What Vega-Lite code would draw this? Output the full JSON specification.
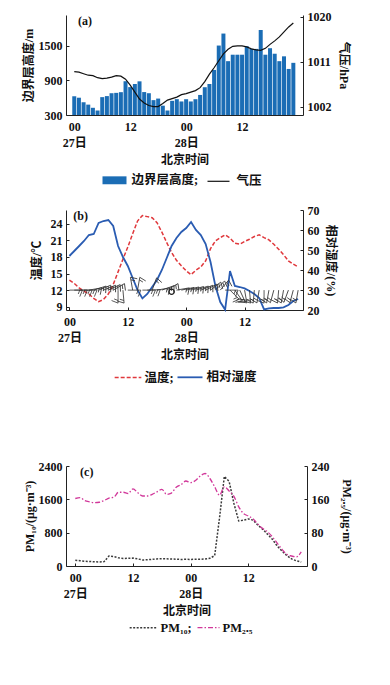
{
  "$schema": "https://vega.github.io/schema/vega-lite/v6.json",
  "background": "white",
  "padding": {"left": 22, "top": 10, "right": 5, "bottom": 5},
  "spacing": 15,
  "resolve": {
    "scale": {"fill": "independent", "stroke": "independent", "color": "independent"},
    "legend": {"fill": "independent", "stroke": "independent", "color": "independent"}
  },
  "config": {
    "view": {"stroke": null},
    "font": "Liberation Serif, Noto Sans CJK SC",
    "axis": {
      "labelFont": "Liberation Serif, Noto Sans CJK SC",
      "titleFont": "Liberation Serif, Noto Sans CJK SC",
      "labelFontSize": 12, "titleFontSize": 12,
      "labelFontWeight": "bold", "titleFontWeight": "bold",
      "labelColor": "#111", "titleColor": "#111",
      "domainColor": "#222", "tickColor": "#222",
      "grid": false, "tickSize": -3, "labelPadding": 7, "format": "d"
    },
    "axisX": {"labelPadding": 9, "titlePadding": 6, "labelLineHeight": 16, "labelFlush": false, "labelOverlap": false},
    "legend": {
      "labelFont": "Liberation Serif, Noto Sans CJK SC",
      "labelFontSize": 12.5, "labelFontWeight": "bold", "labelColor": "#111"
    }
  },
  "vconcat": [
    {
      "width": 237, "height": 100,
      "data": {"values": [
        {"h":0,"blh":625,"p":1009.0},{"h":1,"blh":600,"p":1008.9},{"h":2,"blh":520,"p":1008.6},{"h":3,"blh":480,"p":1008.3},
        {"h":4,"blh":425,"p":1008.2},{"h":5,"blh":378,"p":1007.8},{"h":6,"blh":610,"p":1007.6},{"h":7,"blh":628,"p":1007.7},
        {"h":8,"blh":678,"p":1007.9},{"h":9,"blh":684,"p":1008.2},{"h":10,"blh":696,"p":1008.1},{"h":11,"blh":886,"p":1007.5},
        {"h":12,"blh":784,"p":1006.3},{"h":13,"blh":838,"p":1004.9},{"h":14,"blh":884,"p":1003.5},{"h":15,"blh":698,"p":1002.7},
        {"h":16,"blh":678,"p":1002.2},{"h":17,"blh":558,"p":1002.0},{"h":18,"blh":585,"p":1002.0},{"h":19,"blh":462,"p":1002.6},
        {"h":20,"blh":378,"p":1003.3},{"h":21,"blh":546,"p":1003.6},{"h":22,"blh":575,"p":1003.9},{"h":23,"blh":535,"p":1004.4},
        {"h":24,"blh":574,"p":1004.6},{"h":25,"blh":535,"p":1004.9},{"h":26,"blh":574,"p":1005.2},{"h":27,"blh":648,"p":1005.8},
        {"h":28,"blh":782,"p":1007.0},{"h":29,"blh":838,"p":1008.5},{"h":30,"blh":1082,"p":1009.8},{"h":31,"blh":1505,"p":1011.2},
        {"h":32,"blh":1713,"p":1012.6},{"h":33,"blh":1234,"p":1013.5},{"h":34,"blh":1346,"p":1014.1},{"h":35,"blh":1346,"p":1014.2},
        {"h":36,"blh":1346,"p":1014.2},{"h":37,"blh":1493,"p":1014.0},{"h":38,"blh":1447,"p":1013.6},{"h":39,"blh":1447,"p":1013.4},
        {"h":40,"blh":1775,"p":1013.3},{"h":41,"blh":1346,"p":1013.7},{"h":42,"blh":1459,"p":1014.5},{"h":43,"blh":1363,"p":1015.2},
        {"h":44,"blh":1234,"p":1016.0},{"h":45,"blh":1318,"p":1017.0},{"h":46,"blh":1099,"p":1018.0},{"h":47,"blh":1205,"p":1018.8}
      ]},
      "encoding": {
        "x": {"field": "h", "type": "quantitative",
          "scale": {"domain": [-0.7, 48], "nice": false, "zero": false},
          "axis": {"values": [0, 12, 24, 36], "title": "北京时间",
            "labelExpr": "datum.value == 0 ? ['00','27日'] : datum.value == 24 ? ['00','28日'] : '12'"}}
      },
      "layer": [
        {
          "mark": {"type": "bar", "width": 4},
          "encoding": {
            "y": {"field": "blh", "type": "quantitative",
              "scale": {"domain": [300, 2035], "nice": false, "zero": false},
              "axis": {"orient": "left", "values": [300, 900, 1500], "title": "边界层高度/m", "titlePadding": 3}},
            "y2": {"datum": 300},
            "fill": {"datum": "边界层高度;", "type": "nominal", "scale": {"range": ["#1b6db5"]},
              "legend": {"title": null, "orient": "none", "legendX": 36.5, "legendY": 153.3,
                "symbolType": "M-1,-0.33H1V0.33H-1Z", "symbolSize": 576, "labelOffset": 5, "symbolStrokeWidth": 0}}
          }
        },
        {
          "mark": {"type": "line", "strokeWidth": 1.2},
          "encoding": {
            "y": {"field": "p", "type": "quantitative",
              "scale": {"domain": [1000.3, 1020.4], "nice": false, "zero": false},
              "axis": {"orient": "right", "values": [1002, 1011, 1020], "title": "气压/hPa", "titlePadding": 5}},
            "stroke": {"datum": "气压", "type": "nominal", "scale": {"range": ["#111111"]},
              "legend": {"title": null, "orient": "none", "legendX": 140.5, "legendY": 154.3,
                "symbolType": "stroke", "symbolSize": 484, "symbolStrokeWidth": 1.2, "labelOffset": 6}}
          }
        },
        {
          "data": {"values": [{"h": 0.8, "label": "(a)"}]},
          "mark": {"type": "text", "align": "left", "baseline": "top", "dy": 1, "fontSize": 12, "fontWeight": "bold", "font": "Liberation Serif", "color": "#111"},
          "encoding": {
            "text": {"field": "label", "type": "nominal"},
            "y": {"datum": 2035, "type": "quantitative", "scale": {"domain": [300, 2035], "nice": false, "zero": false}, "axis": null}
          }
        }
      ],
      "resolve": {"scale": {"y": "independent"}}
    },
    {
      "width": 237, "height": 100,
      "data": {"values": [
        {"h":0,"t":13.8,"rh":47,"wd":90},{"h":1,"t":13.2,"rh":49.5,"wd":90},{"h":2,"t":12.4,"rh":52,"wd":90},{"h":3,"t":11.8,"rh":54.5,"wd":90},
        {"h":4,"t":11.3,"rh":57.5,"wd":80},{"h":5,"t":10.5,"rh":58,"wd":72},{"h":6,"t":9.9,"rh":63.5,"wd":68},{"h":7,"t":10.3,"rh":64.5,"wd":68},
        {"h":8,"t":11.3,"rh":65,"wd":65},{"h":9,"t":13.0,"rh":62,"wd":60},{"h":10,"t":15.3,"rh":52,"wd":180},{"h":11,"t":17.6,"rh":46.5,"wd":175},
        {"h":12,"t":19.8,"rh":42,"wd":90},{"h":13,"t":22.2,"rh":36,"wd":350},{"h":14,"t":24.5,"rh":30,"wd":10},{"h":15,"t":25.5,"rh":25.8,"wd":90},
        {"h":16,"t":25.3,"rh":28,"wd":88},{"h":17,"t":25.1,"rh":31.5,"wd":20},{"h":18,"t":24.2,"rh":35,"wd":80},{"h":19,"t":22.5,"rh":40,"wd":70},
        {"h":20,"t":20.6,"rh":46,"wd":60},{"h":21,"t":18.8,"rh":52,"wd":null},{"h":22,"t":17.4,"rh":56,"wd":80},{"h":23,"t":16.4,"rh":59,"wd":78},
        {"h":24,"t":15.5,"rh":61,"wd":76},{"h":25,"t":14.8,"rh":64,"wd":74},{"h":26,"t":15.6,"rh":60,"wd":72},{"h":27,"t":16.2,"rh":57.5,"wd":68},
        {"h":28,"t":17.3,"rh":53,"wd":62},{"h":29,"t":19.5,"rh":44,"wd":52},{"h":30,"t":20.9,"rh":32,"wd":45},{"h":31,"t":21.5,"rh":24,"wd":40},
        {"h":32,"t":22.0,"rh":20.2,"wd":90},{"h":33,"t":21.4,"rh":39.5,"wd":135},{"h":34,"t":20.5,"rh":32,"wd":145},{"h":35,"t":20.3,"rh":31.5,"wd":155},
        {"h":36,"t":20.8,"rh":30.8,"wd":170},{"h":37,"t":21.2,"rh":29.5,"wd":175},{"h":38,"t":21.7,"rh":28,"wd":185},{"h":39,"t":22.0,"rh":26,"wd":190},
        {"h":40,"t":21.5,"rh":20.3,"wd":180},{"h":41,"t":21.1,"rh":20.8,"wd":190},{"h":42,"t":20.3,"rh":21,"wd":195},{"h":43,"t":19.4,"rh":21,"wd":185},
        {"h":44,"t":18.4,"rh":21.3,"wd":190},{"h":45,"t":17.3,"rh":22.5,"wd":200},{"h":46,"t":16.7,"rh":24.5,"wd":195},{"h":47,"t":16.2,"rh":25.5,"wd":190}
      ]},
      "encoding": {
        "x": {"field": "h", "type": "quantitative",
          "scale": {"domain": [-0.7, 48], "nice": false, "zero": false},
          "axis": {"values": [0, 12, 24, 36], "title": "北京时间",
            "labelExpr": "datum.value == 0 ? ['00','27日'] : datum.value == 24 ? ['00','28日'] : '12'"}}
      },
      "layer": [
        {
          "mark": {"type": "line", "strokeWidth": 1.5, "strokeDash": [4, 2]},
          "encoding": {
            "y": {"field": "t", "type": "quantitative",
              "scale": {"domain": [8.4, 26.5], "nice": false, "zero": false},
              "axis": {"orient": "left", "values": [9, 12, 15, 18, 21, 24], "title": "温度/℃", "titlePadding": 7}},
            "stroke": {"datum": "温度;", "type": "nominal", "scale": {"range": ["#e0383c"]},
              "legend": {"title": null, "orient": "none", "legendX": 47.5, "legendY": 153,
                "symbolType": "stroke", "symbolSize": 711, "symbolStrokeWidth": 1.5, "symbolDash": [4, 2], "labelOffset": 2}}
          }
        },
        {
          "mark": {"type": "line", "strokeWidth": 1.8},
          "encoding": {
            "y": {"field": "rh", "type": "quantitative",
              "scale": {"domain": [20, 70], "nice": false, "zero": false},
              "axis": {"orient": "right", "values": [20, 30, 40, 50, 60, 70], "title": "相对湿度/(%)", "titlePadding": 4}},
            "color": {"datum": "相对湿度", "type": "nominal", "scale": {"range": ["#2a5cb2"]},
              "legend": {"title": null, "orient": "none", "legendX": 110.5, "legendY": 153.8,
                "symbolType": "stroke", "symbolSize": 625, "symbolStrokeWidth": 1.8, "labelOffset": 3}}
          }
        },
        {
          "transform": [{"filter": "isValid(datum.wd)"}],
          "mark": {"type": "point", "shape": "M0,0L0,-1L0.5,-0.8M0,-0.8L0.3,-0.68", "size": 676, "filled": false, "color": "#333", "strokeWidth": 0.8, "opacity": 1},
          "encoding": {
            "y": {"datum": 12, "type": "quantitative", "scale": {"domain": [8.4, 26.5], "nice": false, "zero": false}, "axis": null},
            "angle": {"field": "wd", "type": "quantitative", "scale": null}
          }
        },
        {
          "data": {"values": [{"h": 21}]},
          "mark": {"type": "point", "shape": "circle", "size": 28, "filled": false, "color": "#222", "strokeWidth": 1.3, "opacity": 1},
          "encoding": {
            "y": {"datum": 11.7, "type": "quantitative", "scale": {"domain": [8.4, 26.5], "nice": false, "zero": false}, "axis": null}
          }
        },
        {
          "data": {"values": [{"h": 0.8, "label": "(b)"}]},
          "mark": {"type": "text", "align": "left", "baseline": "top", "dy": 1, "fontSize": 12, "fontWeight": "bold", "font": "Liberation Serif", "color": "#111"},
          "encoding": {
            "text": {"field": "label", "type": "nominal"},
            "y": {"datum": 26.5, "type": "quantitative", "scale": {"domain": [8.4, 26.5], "nice": false, "zero": false}, "axis": null}
          }
        }
      ],
      "resolve": {"scale": {"y": "independent"}}
    },
    {
      "width": 241, "height": 100,
      "title": {"text": " ", "fontSize": 12, "offset": 48},
      "data": {"values": [
        {"h":0,"pm10":140,"pm25":162},{"h":1,"pm10":125,"pm25":164},{"h":2,"pm10":115,"pm25":157},{"h":3,"pm10":108,"pm25":154},
        {"h":4,"pm10":100,"pm25":152},{"h":5,"pm10":98,"pm25":153},{"h":6,"pm10":105,"pm25":157},{"h":7,"pm10":240,"pm25":163},
        {"h":8,"pm10":225,"pm25":165},{"h":9,"pm10":195,"pm25":177},{"h":10,"pm10":180,"pm25":177},{"h":11,"pm10":185,"pm25":174},
        {"h":12,"pm10":190,"pm25":185},{"h":13,"pm10":170,"pm25":176},{"h":14,"pm10":145,"pm25":168},{"h":15,"pm10":150,"pm25":168},
        {"h":16,"pm10":160,"pm25":172},{"h":17,"pm10":170,"pm25":178},{"h":18,"pm10":175,"pm25":184},{"h":19,"pm10":172,"pm25":172},
        {"h":20,"pm10":168,"pm25":175},{"h":21,"pm10":162,"pm25":189},{"h":22,"pm10":158,"pm25":195},{"h":23,"pm10":160,"pm25":204},
        {"h":24,"pm10":158,"pm25":200},{"h":25,"pm10":160,"pm25":205},{"h":26,"pm10":162,"pm25":216},{"h":27,"pm10":170,"pm25":222},
        {"h":28,"pm10":185,"pm25":210},{"h":29,"pm10":250,"pm25":190},{"h":30,"pm10":1150,"pm25":170},{"h":31,"pm10":2150,"pm25":190},
        {"h":32,"pm10":2030,"pm25":180},{"h":33,"pm10":1500,"pm25":167},{"h":34,"pm10":1080,"pm25":142},{"h":35,"pm10":1100,"pm25":126},
        {"h":36,"pm10":1130,"pm25":120},{"h":37,"pm10":1100,"pm25":113},{"h":38,"pm10":980,"pm25":100},{"h":39,"pm10":880,"pm25":90},
        {"h":40,"pm10":760,"pm25":82},{"h":41,"pm10":640,"pm25":70},{"h":42,"pm10":480,"pm25":55},{"h":43,"pm10":360,"pm25":40},
        {"h":44,"pm10":250,"pm25":28},{"h":45,"pm10":170,"pm25":24},{"h":46,"pm10":125,"pm25":22},{"h":47,"pm10":95,"pm25":34}
      ]},
      "encoding": {
        "x": {"field": "h", "type": "quantitative",
          "scale": {"domain": [-1.93, 48.2], "nice": false, "zero": false},
          "axis": {"values": [0, 12, 24, 36], "title": "北京时间",
            "labelExpr": "datum.value == 0 ? ['00','27日'] : datum.value == 24 ? ['00','28日'] : '12'"}}
      },
      "layer": [
        {
          "mark": {"type": "line", "strokeWidth": 1.5, "strokeDash": [2, 1.5]},
          "encoding": {
            "y": {"field": "pm10", "type": "quantitative",
              "scale": {"domain": [0, 2400], "nice": false},
              "axis": {"orient": "left", "values": [0, 800, 1600, 2400], "title": "PM₁₀/(μg·m⁻³)", "titlePadding": 2}},
            "stroke": {"datum": "PM₁₀;", "type": "nominal", "scale": {"range": ["#3a3a3a"]},
              "legend": {"title": null, "orient": "none", "legendX": 62.5, "legendY": 147.3,
                "symbolType": "stroke", "symbolSize": 711, "symbolStrokeWidth": 1.5, "symbolDash": [2, 1.5], "labelOffset": 3}}
          }
        },
        {
          "mark": {"type": "line", "strokeWidth": 1.3, "strokeDash": [5, 2, 1.5, 2], "interpolate": "monotone"},
          "encoding": {
            "y": {"field": "pm25", "type": "quantitative",
              "scale": {"domain": [0, 240], "nice": false},
              "axis": {"orient": "right", "values": [0, 80, 160, 240], "title": "PM₂.₅/(μg·m⁻³)", "titlePadding": 10}},
            "color": {"datum": "PM₂.₅", "type": "nominal", "scale": {"range": ["#d1389a"]},
              "legend": {"title": null, "orient": "none", "legendX": 130.5, "legendY": 149.6,
                "symbolType": "stroke", "symbolSize": 484, "symbolStrokeWidth": 1.3, "symbolDash": [5, 2, 1.5, 2], "labelOffset": 2}}
          }
        },
        {
          "data": {"values": [{"h": 1.0, "label": "(c)"}]},
          "mark": {"type": "text", "align": "left", "baseline": "top", "dy": 1, "fontSize": 12, "fontWeight": "bold", "font": "Liberation Serif", "color": "#111"},
          "encoding": {
            "text": {"field": "label", "type": "nominal"},
            "y": {"datum": 2400, "type": "quantitative", "scale": {"domain": [0, 2400], "nice": false}, "axis": null}
          }
        }
      ],
      "resolve": {"scale": {"y": "independent"}}
    }
  ]
}
